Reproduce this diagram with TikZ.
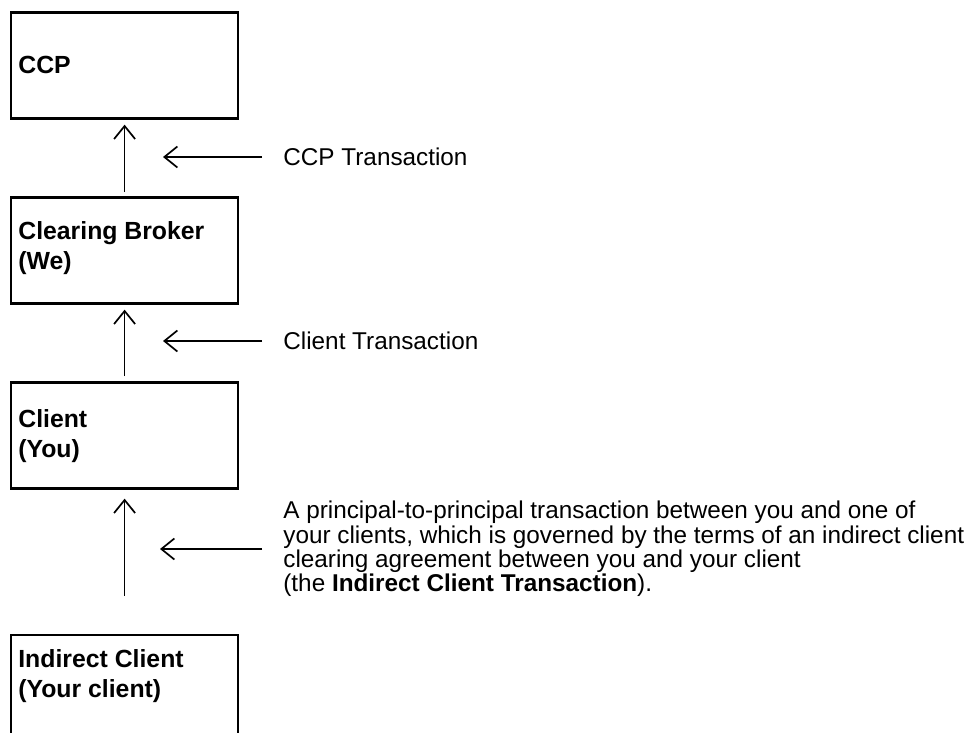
\documentclass[tikz,border=0pt]{standalone}
\usepackage{fontspec}
\setmainfont{Liberation Sans}
\usetikzlibrary{positioning,arrows.meta}

\tikzset{
	party/.style={draw, line width=1.25pt, minimum width=113.4pt, minimum height=53pt, inner sep=0pt},
	partyname/.style={font=\bfseries\fontsize{12.4pt}{15pt}\selectfont, align=left, inner sep=0pt},
	flow/.style={line width=0.85pt, -{Straight Barb[length=6.5pt,width=10.5pt]}},
	note/.style={font=\fontsize{12.15pt}{12.1pt}\selectfont, align=left, anchor=west, inner sep=0pt}
}

\begin{document}
\begin{tikzpicture}[x=0.5pt, y=0.5pt]
	\clip (0,0) rectangle (980,-733);

	\node[party] (ccp) at (124.6,-65.4) {};
	\node[party, below=38.25pt of ccp] (broker) {};
	\node[party, below=38.25pt of broker] (client) {};
	\node[party, below=72.15pt of client] (indirect) {};

	\node[partyname, right=4pt of ccp.west] (ccpname) {CCP};
	\node[partyname, right=4pt of broker.west, yshift=1pt] (brokername) {Clearing Broker\\(We)};
	\node[partyname, right=4pt of client.west, yshift=-0.5pt] (clientname) {Client\\(You)};
	\node[partyname, right=4pt of indirect.west, yshift=6pt] (indirectname) {Indirect Client\\(Your client)};

	\draw[flow, shorten <=2pt, shorten >=2.5pt] (broker) -- (ccp);
	\draw[flow, shorten <=2.5pt, shorten >=2.5pt] (client) -- (broker);
	\draw[flow, shorten <=19pt, shorten >=4.5pt] (indirect) -- (client);

	\node[note] (ccptx) at (283,-157) {CCP Transaction};
	\node[note] (clienttx) at (283,-341) {Client Transaction};
	\node[note] (indirecttx) at (283,-549) {A principal-to-principal transaction between you and one of\\
		your clients, which is governed by the terms of an indirect client\\
		clearing agreement between you and your client\\
		(the \textbf{Indirect Client Transaction}).};

	\coordinate[left=60pt of ccptx.west] (ccptip);
	\coordinate[left=60pt of clienttx.west] (clienttip);
	\coordinate[left=61.5pt of indirecttx.west] (indirecttip);

	\draw[flow, shorten <=10.5pt] (ccptx.west) -- (ccptip);
	\draw[flow, shorten <=10.5pt] (clienttx.west) -- (clienttip);
	\draw[flow, shorten <=10.5pt] (indirecttx.west) -- (indirecttip);
\end{tikzpicture}
\end{document}
